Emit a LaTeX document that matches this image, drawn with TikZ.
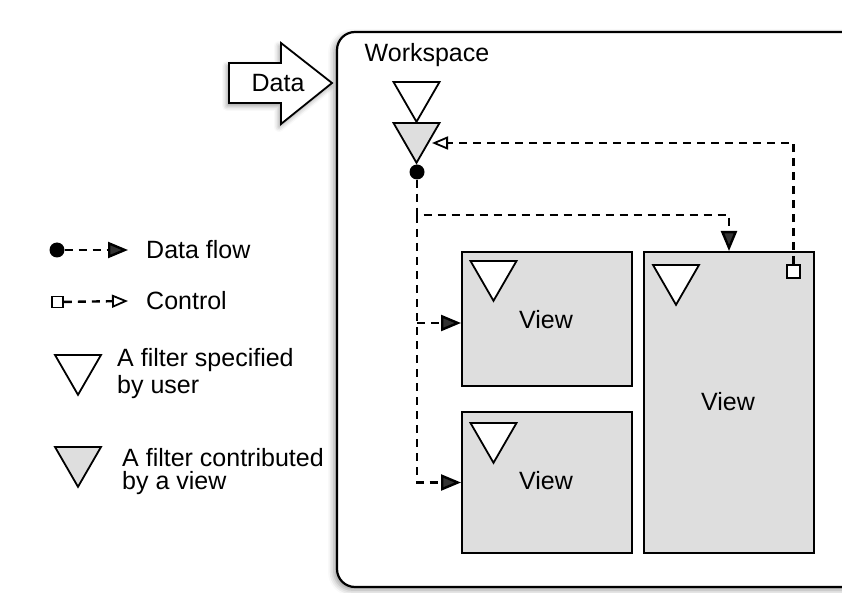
\documentclass[tikz,border=0pt]{standalone}
\usepackage{fontspec}
\setmainfont{Liberation Sans}
\usepackage{tikz}
\usetikzlibrary{arrows.meta}
\usetikzlibrary{shapes.geometric}
\usetikzlibrary{shadows.blur}

\definecolor{viewgray}{RGB}{222,222,222}
\tikzset{
  txt/.style={font=\fontsize{25}{26}\selectfont, inner sep=0pt},
  filter/.style={regular polygon, regular polygon sides=3, shape border rotate=180,
    draw, line width=1.8pt, minimum size=53pt, inner sep=0pt, fill=white},
  vfilter/.style={filter, fill=viewgray},
  viewbox/.style={draw, line width=2pt, fill=viewgray, minimum width=170pt, inner sep=0pt},
  dot/.style={circle, fill=black, minimum size=15pt, inner sep=0pt},
  ctrlsq/.style={draw, line width=1.8pt, fill=white, minimum size=13pt, inner sep=0pt},
  flow/.style={line width=2.4pt, dash pattern=on 8pt off 6pt, -{Triangle[length=20pt,width=16pt]}},
  ctrl/.style={line width=2.4pt, dash pattern=on 8pt off 6pt, -{Triangle[open,length=16pt,width=13pt,line width=1.8pt]}}
}

\begin{document}
\begin{tikzpicture}[x=1pt,y=-1pt]
\useasboundingbox (0,0) rectangle (842,593);

% workspace and incoming data
\draw[line width=2.2pt, rounded corners=18pt, fill=white,
  blur shadow={shadow xshift=-3pt, shadow yshift=-3pt, shadow blur radius=6pt, shadow opacity=40}]
  (337,32) rectangle (880,587);
\draw[line width=1.8pt, fill=white,
  blur shadow={shadow xshift=-2pt, shadow yshift=-3pt, shadow blur radius=5pt, shadow opacity=40}]
  (229,63) -- (281,63) -- (281,43) -- (332,83) -- (281,124) -- (281,103) -- (229,103) -- cycle;
\node[txt] (data) at (278,83) {Data};
\node[txt] (ws) at (427,55) {Workspace};

% filters of the workspace
\node[filter] (ufilter) at (416.5,95.3) {};
\node[vfilter] (cfilter) at (416.5,136.3) {};
\node[dot] (out) at (417,172) {};

% views
\node[viewbox, minimum height=134pt] (view1) at (547,319) {};
\node[viewbox, minimum height=141pt] (view2) at (547,482.5) {};
\node[viewbox, minimum height=301pt] (bigview) at (729,402.5) {};
\node[txt] at (546,320) {View};
\node[txt] at (546,481) {View};
\node[txt] at (728,402) {View};
\node[filter] (f1) at (493.5,274.3) {};
\node[filter] (f2) at (493.5,436.3) {};
\node[filter] (f3) at (676,278.3) {};
\node[ctrlsq] (csq) at (793.5,271.5) {};

% connectors
\coordinate (split) at (417,215);
\coordinate (ctrlin) at (432,143);
\draw[flow] (out) -- (split) -| (bigview.north);
\draw[flow] (split) |- (view2.west);
\draw[flow] (split |- 0,323) -- (view1.west |- 0,323);
\draw[ctrl] (csq) |- (ctrlin);

% legend
\node[dot] (ldot) at (57,250) {};
\node[txt, anchor=west] (lflow) at (146,250) {Data flow};
\draw[flow] (ldot) -- ([xshift=-18pt]lflow.west);
\node[ctrlsq, minimum size=11pt] (lsq) at (57.5,302) {};
\node[txt, anchor=west] (lctrl) at (146,301) {Control};
\draw[ctrl] (lsq) -- ([xshift=-18pt]lctrl.west);
\node[filter] (luser) at (78,368.3) {};
\node[txt, anchor=west, align=left, font=\fontsize{25}{27}\selectfont] at (117,374) {A filter specified\\by user};
\node[vfilter] (lview) at (78,460.3) {};
\node[txt, anchor=west, align=left, font=\fontsize{25}{23}\selectfont] at (122,472) {A filter contributed\\by a view};
\end{tikzpicture}
\end{document}
